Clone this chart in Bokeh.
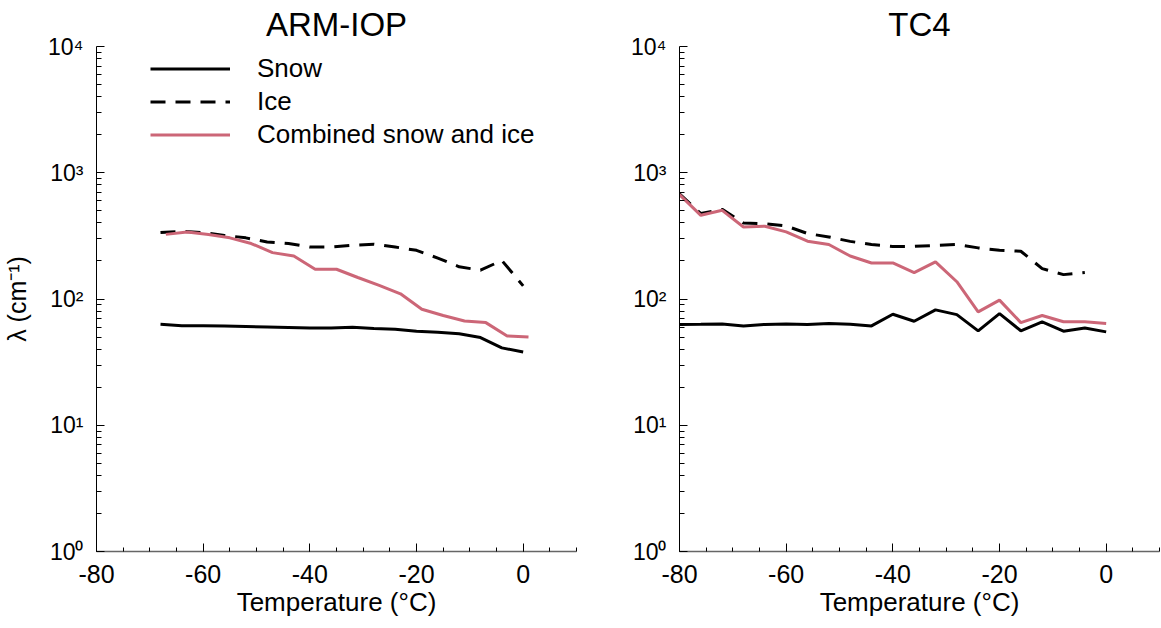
from bokeh.plotting import figure
from bokeh.models import (Range1d, FixedTicker, CustomJSTickFormatter, Legend, LegendItem)
from bokeh.layouts import row
from bokeh.embed import file_html
from bokeh.resources import INLINE

# ---------------- data ----------------
panel_titles = ["ARM-IOP", "TC4"]
x_major_ticks = [-80, -60, -40, -20, 0]
x_minor_ticks = [-80, -75, -70, -65, -60, -55, -50, -45, -40, -35, -30, -25, -20, -15, -10, -5, 0, 5, 10]
y_major_ticks = [1, 10, 100, 1000, 10000]
y_minor_ticks = [2, 3, 4, 5, 6, 7, 8, 9,
                 20, 30, 40, 50, 60, 70, 80, 90,
                 200, 300, 400, 500, 600, 700, 800, 900,
                 2000, 3000, 4000, 5000, 6000, 7000, 8000, 9000]

# ARM-IOP
arm_temp = [-68, -64, -60, -56, -52, -48, -44, -40, -36, -32, -28, -24, -20, -16, -12, -8, -4, 0]
arm_snow = [63, 61.5, 61.5, 61, 60.5, 60, 59.5, 59, 59, 59.7, 58.5, 57.6, 55.5, 54.5, 53, 49.5, 41, 38]
arm_ice = [336, 344, 336, 319, 305, 283, 275, 258, 258, 266, 272, 258, 243, 211, 180, 169, 202, 127]
arm_comb_temp = [-67, -63, -59, -55, -51, -47, -43, -39, -35, -31, -27, -23, -19, -15, -11, -7, -3, 1]
arm_comb = [325, 340, 324, 305, 275, 233, 219, 172, 172, 148, 128, 110, 83, 74, 67, 65, 51, 50]

# TC4
tc4_temp = [-80, -76, -72, -68, -64, -60, -56, -52, -48, -44, -40, -36, -32, -28, -24, -20, -16, -12, -8, -4, 0]
tc4_snow = [62.7, 63, 63.5, 61.2, 62.9, 63.5, 62.7, 64, 63.2, 61.2, 75.7, 66.6, 82, 75.2, 55.9, 76.6, 56, 65.9, 55.6, 59, 54.9]
tc4_ice_temp = [-80, -76, -72, -68, -64, -60, -56, -52, -48, -44, -40, -36, -32, -28, -24, -20, -16, -12, -8, -4]
tc4_ice = [680, 475, 513, 400, 395, 379, 330, 310, 286, 270, 261, 261, 266, 270, 254, 243, 239, 174, 156, 162]
tc4_comb = [671, 460, 504, 372, 377, 340, 287, 270, 219, 193, 193, 162, 197, 137, 79, 98, 65, 74, 66, 66, 64]

legend_labels = ["Snow", "Ice", "Combined snow and ice"]

FONT = "Liberation Sans"
PINK = "#CC6677"
DASH = "15 10"

sup_code = """
const sup = {"0":"\u2070","1":"\u00b9","2":"\u00b2","3":"\u00b3","4":"\u2074","5":"\u2075","6":"\u2076"};
const e = Math.round(Math.log10(tick));
return "10" + String(e).split("").map(c => sup[c]).join("");
"""
x_code = "return tick.toFixed(0);"


def make_fig(title, border_left, border_right, ylabel=None):
    p = figure(x_range=Range1d(-80, 10), y_range=Range1d(1, 10000), y_axis_type="log",
               frame_width=480, frame_height=505, output_backend="svg", toolbar_location=None,
               min_border_left=border_left, min_border_right=border_right,
               min_border_top=44, min_border_bottom=70, title=title)
    p.title.align = "center"
    p.title.text_font = FONT
    p.title.text_font_size = "33px"
    p.title.text_font_style = "normal"
    p.title.text_color = "black"
    p.title.standoff = 7
    p.outline_line_color = None
    p.xgrid.visible = False
    p.ygrid.visible = False
    p.background_fill_color = "white"
    p.border_fill_color = "white"

    xa = p.xaxis[0]
    xa.ticker = FixedTicker(ticks=x_major_ticks, minor_ticks=x_minor_ticks)
    xa.formatter = CustomJSTickFormatter(code=x_code)
    xa.axis_label = "Temperature (\u00b0C)"
    xa.axis_label_text_font = FONT
    xa.axis_label_text_font_size = "26px"
    xa.axis_label_text_font_style = "normal"
    xa.axis_label_text_color = "black"
    xa.axis_label_standoff = 1
    xa.major_label_text_font = FONT
    xa.major_label_text_font_size = "25px"
    xa.major_label_text_color = "black"
    xa.major_label_standoff = 13
    xa.axis_line_color = "#666666"
    xa.axis_line_width = 1.5
    xa.major_tick_in = 8
    xa.major_tick_out = 0
    xa.minor_tick_in = 4
    xa.minor_tick_out = 0
    xa.major_tick_line_color = "black"
    xa.minor_tick_line_color = "black"

    ya = p.yaxis[0]
    ya.ticker = FixedTicker(ticks=y_major_ticks, minor_ticks=y_minor_ticks)
    ya.formatter = CustomJSTickFormatter(code=sup_code)
    ya.major_label_text_font = FONT
    ya.major_label_text_font_size = "23px"
    ya.major_label_text_color = "black"
    ya.major_label_standoff = 13
    ya.axis_line_color = "black"
    ya.axis_line_width = 1
    ya.major_tick_in = 8
    ya.major_tick_out = 0
    ya.minor_tick_in = 5
    ya.minor_tick_out = 0
    if ylabel:
        ya.axis_label = ylabel
        ya.axis_label_text_font = FONT
        ya.axis_label_text_font_size = "25px"
        ya.axis_label_text_font_style = "normal"
        ya.axis_label_text_color = "black"
        ya.axis_label_standoff = 14
    return p


p1 = make_fig(panel_titles[0], 90, 52, ylabel="\u03bb (cm\u207b\u00b9)")
r_snow = p1.line(arm_temp, arm_snow, line_color="black", line_width=3)
r_ice = p1.line(arm_temp, arm_ice, line_color="black", line_width=3, line_dash=DASH)
r_comb = p1.line(arm_comb_temp, arm_comb, line_color=PINK, line_width=3)

legend = Legend(items=[LegendItem(label=legend_labels[0], renderers=[r_snow]),
                       LegendItem(label=legend_labels[1], renderers=[r_ice]),
                       LegendItem(label=legend_labels[2], renderers=[r_comb])],
                location=(54, 400))
legend.border_line_color = None
legend.background_fill_alpha = 0
legend.padding = 0
legend.margin = 0
legend.spacing = 0
legend.glyph_width = 80
legend.glyph_height = 33
legend.label_height = 33
legend.label_standoff = 27
legend.label_text_font = FONT
legend.label_text_font_size = "26px"
legend.label_text_color = "black"
p1.add_layout(legend)

p2 = make_fig(panel_titles[1], 50, 1)
p2.line(tc4_temp, tc4_snow, line_color="black", line_width=3)
p2.line(tc4_ice_temp, tc4_ice, line_color="black", line_width=3, line_dash=DASH)
p2.line(tc4_temp, tc4_comb, line_color=PINK, line_width=3)

layout = row(p1, p2)
open("out.html", "w").write(file_html(layout, INLINE))
